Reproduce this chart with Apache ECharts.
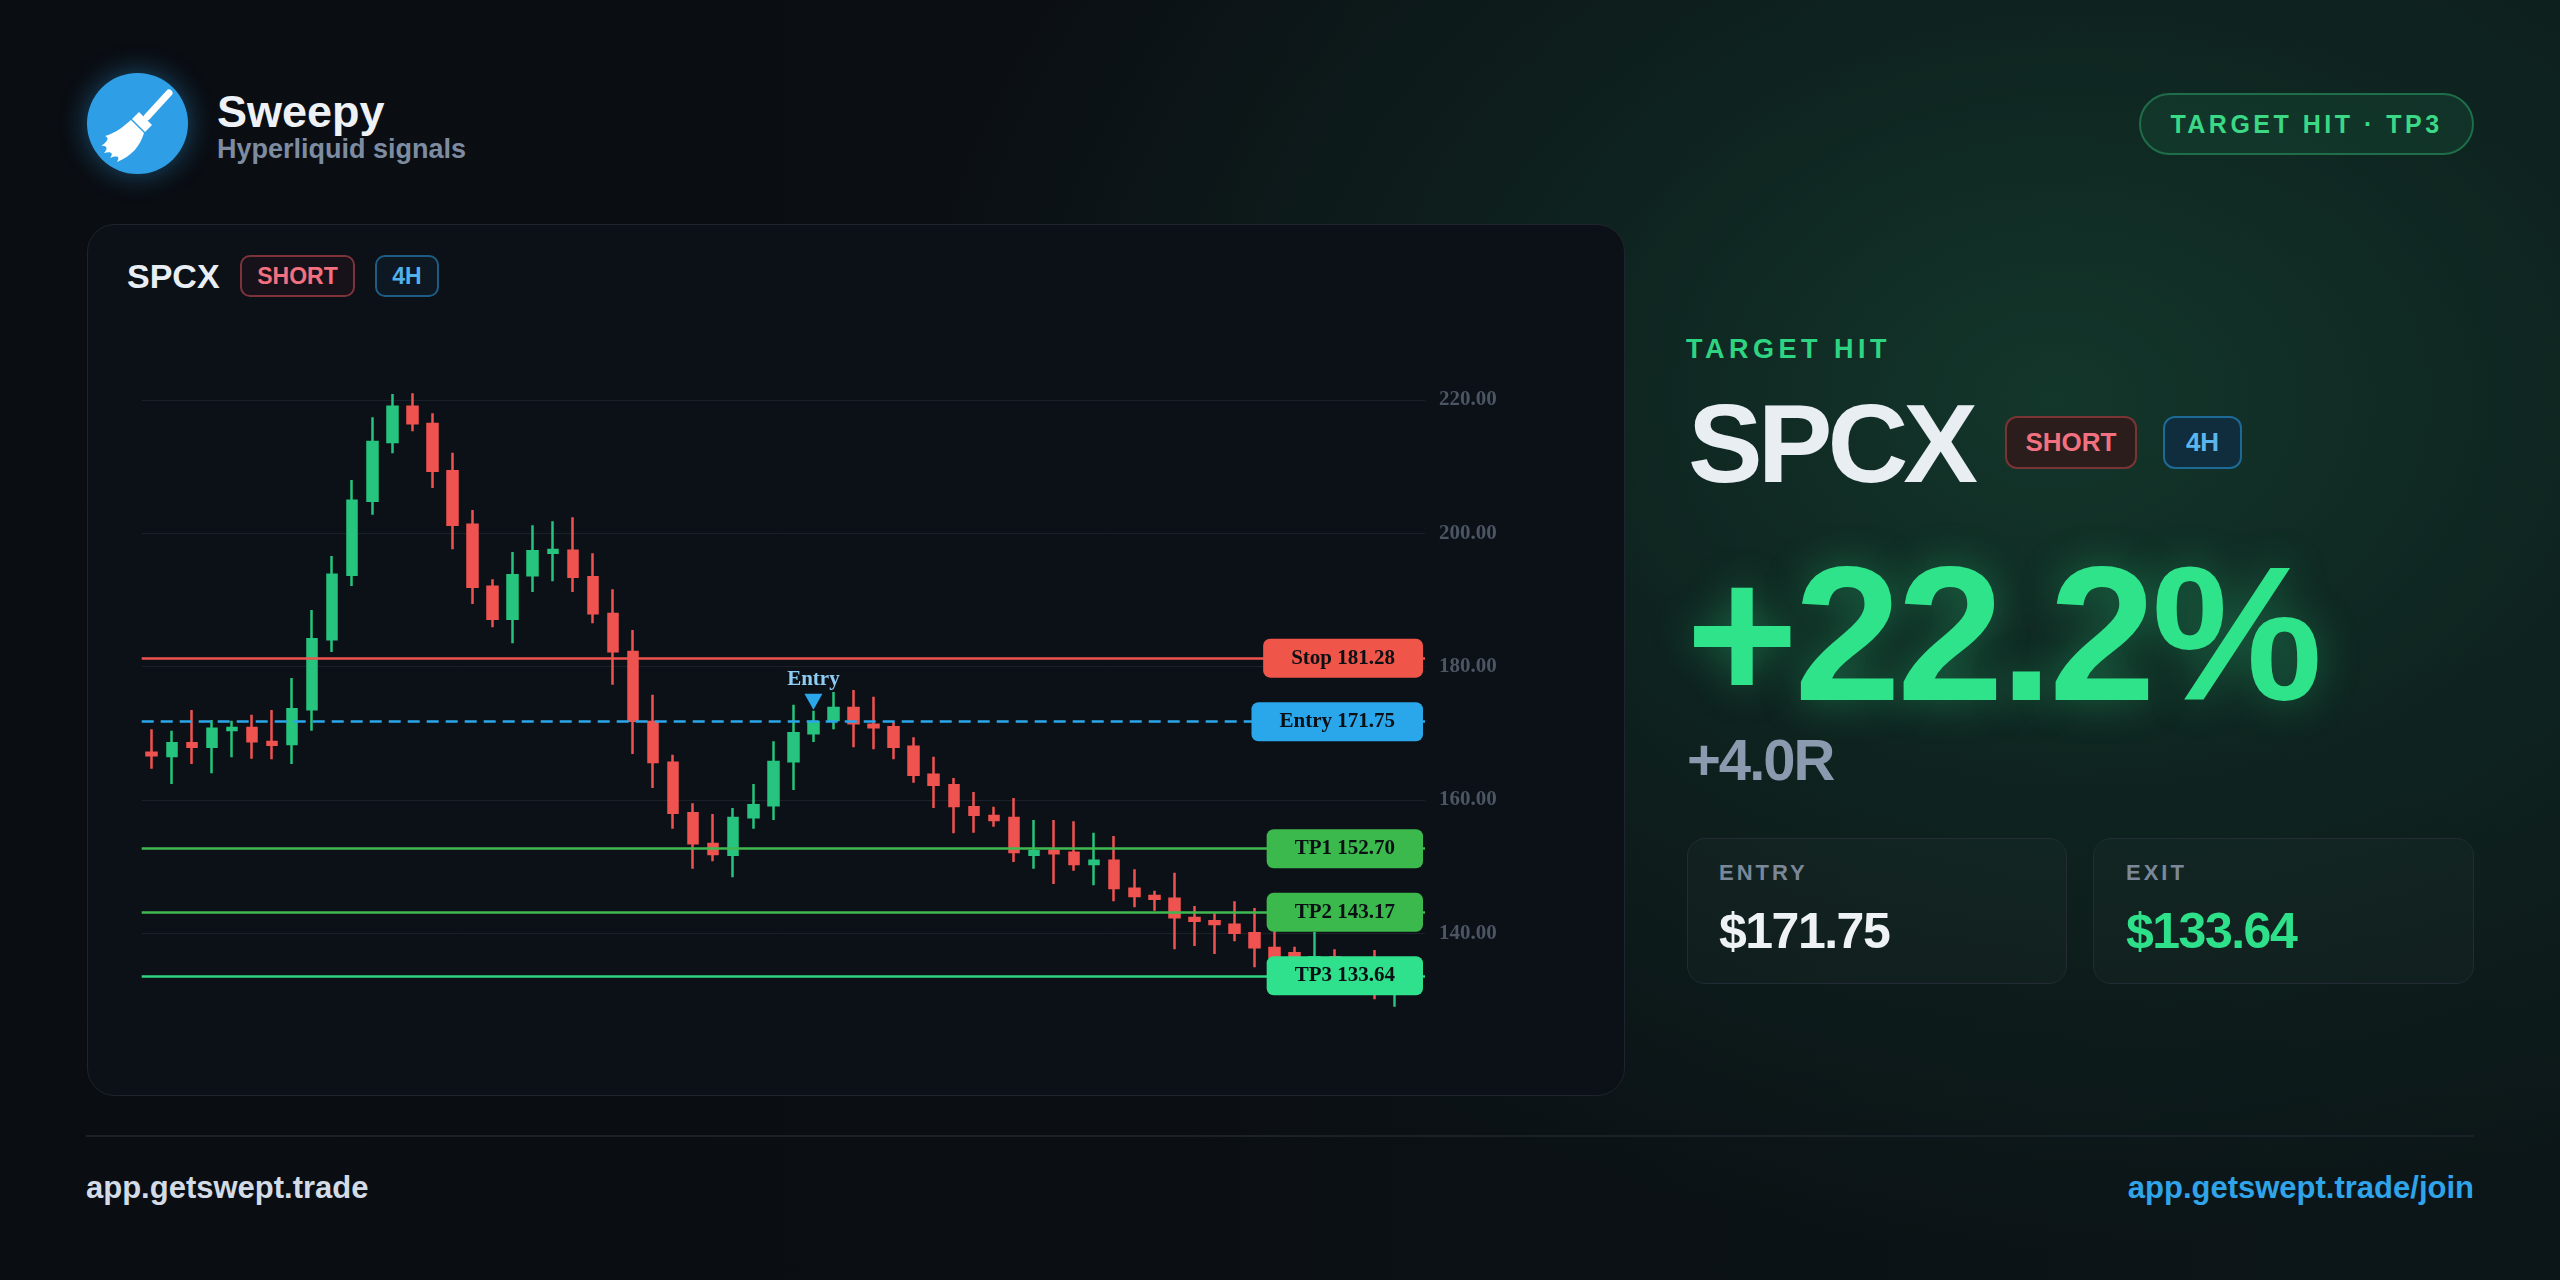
<!DOCTYPE html>
<html>
<head>
<meta charset="utf-8">
<script src="https://cdn.jsdelivr.net/npm/echarts@6/dist/echarts.min.js"></script>
<style>
html,body{margin:0;padding:0;width:2560px;height:1280px;overflow:hidden;}
body{
  position:relative;
  font-family:'Liberation Sans', Arial, sans-serif;
  background:
    radial-gradient(ellipse 1350px 1000px at 2050px 400px, rgba(24,78,56,0.6) 0%, rgba(18,58,44,0.4) 40%, rgba(12,24,24,0) 85%),
    linear-gradient(90deg, #0a0d12 0%, #0b0f14 45%, #0c1618 100%);
}
.abs{position:absolute;white-space:nowrap;line-height:1;}
.logo{position:absolute;left:87px;top:73px;width:101px;height:101px;border-radius:50%;background:#2e9fe6;box-shadow:0 0 28px rgba(46,159,230,0.45);}
.card{position:absolute;left:87px;top:224px;width:1536px;height:870px;border-radius:28px;background:#0c1117;border:1.5px solid #1e252e;}
.badge{position:absolute;box-sizing:border-box;display:flex;align-items:center;justify-content:center;font-weight:bold;}
.box{position:absolute;box-sizing:border-box;border-radius:18px;border:1.5px solid #232b34;background:rgba(255,255,255,0.018);}
#chart{position:absolute;left:87px;top:224px;width:1538px;height:872px;}
</style>
</head>
<body>
<div class="logo">
  <svg width="101" height="101" viewBox="0 0 101 101">
    <line x1="82" y1="20" x2="60" y2="44" stroke="#fff" stroke-width="7" stroke-linecap="round"/>
    <path d="M52,39 L65,52 L58,59 L45,46 Z" fill="#fff"/>
    <path d="M44,47 L57,60 C53,73 45,83 30,89 C33,84 31,82 23,85 C27,80 24,78 17,80 C22,75 19,72 14,73 C23,67 21,64 18,63 C29,60 37,53 44,47 Z" fill="#fff"/>
  </svg>
</div>
<div class="abs" style="left:217px;top:89px;font-size:45px;font-weight:bold;color:#eef2f6;">Sweepy</div>
<div class="abs" style="left:217px;top:136px;font-size:27px;font-weight:bold;color:#7d8ca0;">Hyperliquid signals</div>

<div class="badge" style="left:2139px;top:93px;width:335px;height:62px;border-radius:31px;border:2px solid #1f6e4a;background:rgba(24,80,56,0.35);color:#3bd886;font-size:25px;letter-spacing:3.5px;">TARGET HIT · TP3</div>

<div class="card"></div>
<div class="abs" style="left:127px;top:259px;font-size:34px;font-weight:bold;color:#e9eef4;">SPCX</div>
<div class="badge" style="left:240px;top:255px;width:115px;height:42px;border-radius:10px;border:2px solid #7d3339;background:#17111a;color:#f2707f;font-size:23px;">SHORT</div>
<div class="badge" style="left:375px;top:255px;width:64px;height:42px;border-radius:10px;border:2px solid #1d5c85;background:#0d1822;color:#51b1ec;font-size:23px;">4H</div>

<div id="chart"></div>

<div class="abs" style="left:1686px;top:336px;font-size:27px;font-weight:bold;color:#2fd483;letter-spacing:4.5px;">TARGET HIT</div>
<div class="abs" style="left:1688px;top:388px;font-size:112px;font-weight:bold;color:#e9eef3;letter-spacing:-5px;">SPCX</div>
<div class="badge" style="left:2005px;top:416px;width:132px;height:53px;border-radius:12px;border:2px solid #7a3434;background:#2a1d1c;color:#f27180;font-size:26px;">SHORT</div>
<div class="badge" style="left:2163px;top:416px;width:79px;height:53px;border-radius:12px;border:2px solid #1c6a95;background:#0f2d3c;color:#5bb6ee;font-size:26px;">4H</div>

<div class="abs" style="left:1686px;top:538px;font-size:192px;font-weight:bold;color:#2fe38a;letter-spacing:-4px;text-shadow:0 0 40px rgba(47,227,138,0.35);">+22.2%</div>
<div class="abs" style="left:1687px;top:731px;font-size:58px;font-weight:bold;color:#8c9ab0;letter-spacing:-2px;">+4.0R</div>

<div class="box" style="left:1687px;top:838px;width:380px;height:146px;"></div>
<div class="box" style="left:2093px;top:838px;width:381px;height:146px;"></div>
<div class="abs" style="left:1719px;top:862px;font-size:22px;font-weight:bold;color:#7b8899;letter-spacing:3px;">ENTRY</div>
<div class="abs" style="left:1719px;top:906px;font-size:50px;font-weight:bold;color:#eef2f6;letter-spacing:-1.5px;">$171.75</div>
<div class="abs" style="left:2126px;top:862px;font-size:22px;font-weight:bold;color:#7b8899;letter-spacing:3px;">EXIT</div>
<div class="abs" style="left:2126px;top:906px;font-size:50px;font-weight:bold;color:#2fe08a;letter-spacing:-1.5px;">$133.64</div>

<div style="position:absolute;left:86px;top:1135px;width:2388px;height:2px;background:#1a2129;"></div>
<div class="abs" style="left:86px;top:1172px;font-size:31px;font-weight:bold;color:#d3dbe6;">app.getswept.trade</div>
<div class="abs" style="right:86px;top:1172px;font-size:31px;font-weight:bold;color:#2fa4e9;">app.getswept.trade/join</div>

<script>
// ---- data ----
// each candle: [open, close, low, high]
const ohlc = [
  [167.1,166.7,164.7,170.6],[166.6,168.5,162.4,170.4],[168.5,168.0,165.4,173.5],[168.0,170.7,164.0,172.0],
  [170.5,170.8,166.4,171.9],[170.8,168.8,166.2,172.8],[168.7,168.3,166.1,173.5],[168.4,173.6,165.4,178.3],
  [173.6,184.1,170.4,188.5],[184.1,193.8,182.2,196.6],[193.8,204.9,192.1,208.0],[204.9,213.7,202.8,217.4],
  [213.7,219.0,212.0,220.9],[219.0,216.5,215.3,221.0],[216.4,209.4,206.8,218.0],[209.3,201.3,197.6,212.1],
  [201.3,192.0,189.4,203.5],[192.0,187.2,185.9,193.1],[187.2,193.7,183.5,197.2],[193.7,197.3,191.2,201.2],
  [197.1,197.5,192.8,201.8],[197.4,193.5,191.2,202.4],[193.4,188.0,186.5,197.0],[187.9,182.3,177.3,191.6],
  [182.2,171.9,166.9,185.5],[171.7,165.7,161.8,175.8],[165.6,158.1,155.7,166.8],[158.0,153.5,149.7,159.5],
  [153.4,151.9,150.8,157.9],[151.8,157.3,148.4,158.8],[157.4,159.2,155.7,162.4],[159.2,165.7,157.0,168.8],
  [165.8,170.0,161.5,174.3],[170.0,171.7,168.7,173.4],[172.0,173.8,170.6,176.2],[173.8,171.5,167.9,176.5],
  [171.3,170.9,167.6,175.5],[170.9,168.0,166.1,171.7],[168.0,163.8,162.6,169.4],[163.8,162.3,158.8,166.5],
  [162.2,159.1,155.0,163.3],[158.9,157.8,155.1,161.2],[157.6,157.0,156.0,159.0],[157.3,152.2,150.7,160.3],
  [151.8,152.3,149.7,157.0],[152.4,152.0,147.4,157.0],[152.1,150.4,149.4,156.8],[150.4,150.9,147.2,155.1],
  [150.9,146.8,144.8,154.6],[146.7,145.6,143.9,149.6],[145.6,145.2,143.4,146.4],[145.2,142.4,137.6,149.1],
  [142.3,141.9,138.1,144.1],[141.8,141.4,136.9,143.0],[141.3,140.1,138.8,144.8],[140.0,137.9,134.9,143.8],
  [137.8,136.5,134.6,141.8],[137.0,135.6,133.8,138.0],[135.3,136.4,133.5,140.2],[136.4,135.1,133.2,137.6],
  [135.1,134.3,132.6,135.6],[134.6,133.3,130.1,137.5],[132.9,133.6,129.0,135.1]
];
// bar slots (one spare slot after the last candle)
const categories = ohlc.map((_, i) => String(i + 1)).concat(['']);
const entryIndex = 33;
const entryMarkerText = 'Entry';
const levelNames = ['Stop', 'Entry', 'TP1', 'TP2', 'TP3'];
const levelValues = [181.28, 171.75, 152.70, 143.17, 133.64];
const yTicks = [140, 160, 180, 200, 220];

// ---- styles ----
const upColor = '#26c47e', downColor = '#ef5350';
const levelLineColors = ['#ef5350', '#2aa6ea', '#3fb950', '#3fb950', '#2ed47f'];
const levelBoxColors = ['#f0554a', '#2aa6ea', '#3cb94d', '#3cb94d', '#2fe08c'];
const axisMin = 120, axisMax = 240, axisStep = 20;
const gridColor = '#1b212a';

const allTicks = [];
for (let v = axisMin; v <= axisMax; v += axisStep) allTicks.push(v);
const splitColors = allTicks.map(v => yTicks.includes(v) ? gridColor : 'rgba(0,0,0,0)');

const serif = "'Liberation Serif', 'DejaVu Serif', serif";

const chart = echarts.init(document.getElementById('chart'));
chart.setOption({
  animation: false,
  backgroundColor: 'transparent',
  grid: { left: 54.7, right: 200, top: 42.7, height: 800 },
  xAxis: {
    type: 'category', data: categories, boundaryGap: true,
    axisLine: { show: false }, axisTick: { show: false }, axisLabel: { show: false }, splitLine: { show: false }
  },
  yAxis: {
    type: 'value', position: 'right', min: axisMin, max: axisMax, interval: axisStep, scale: false,
    axisLine: { show: false }, axisTick: { show: false },
    axisLabel: {
      margin: 14, color: '#4b5563', fontFamily: serif, fontWeight: 'bold', fontSize: 21,
      formatter: v => yTicks.includes(v) ? v.toFixed(2) : ''
    },
    splitLine: { show: true, lineStyle: { color: splitColors, width: 1 } }
  },
  series: [{
    type: 'candlestick',
    data: ohlc,
    barWidth: 10,
    itemStyle: { color: upColor, color0: downColor, borderColor: upColor, borderColor0: downColor, borderWidth: 2.5 },
    markLine: {
      silent: true,
      symbol: ['none', 'none'],
      animation: false,
      data: levelNames.map((name, i) => ({
        yAxis: levelValues[i],
        lineStyle: { color: levelLineColors[i], width: 2.5, type: i === 1 ? [12, 7] : 'solid' },
        label: {
          show: true, position: 'insideEnd', distance: [2, 0],
          formatter: name + ' ' + levelValues[i].toFixed(2),
          backgroundColor: levelBoxColors[i], color: '#0b1015',
          fontFamily: serif, fontWeight: 'bold', fontSize: 21,
          padding: [9, 28], borderRadius: 7
        },
        emphasis: { disabled: true }
      }))
    },
    markPoint: {
      silent: true,
      animation: false,
      data: [{
        coord: [categories[entryIndex], ohlc[entryIndex][3]],
        symbol: 'path://M0,0L20,0L10,18Z',
        symbolSize: [18, 16],
        symbolOffset: [0, -9],
        itemStyle: { color: '#2aa6ea' },
        label: {
          show: true, position: 'top', distance: 4, formatter: entryMarkerText,
          color: '#8ecdf3', fontFamily: serif, fontWeight: 'bold', fontSize: 21
        }
      }]
    }
  }]
});
</script>
</body>
</html>
